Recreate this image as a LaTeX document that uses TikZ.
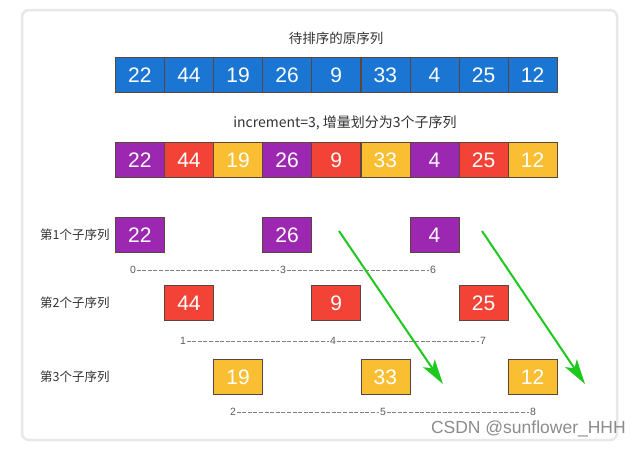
\documentclass[tikz,border=0pt]{standalone}
\usepackage{fontspec}
\setmainfont{Liberation Sans}
\newfontfamily\cjk{Noto Sans CJK SC}
\usetikzlibrary{arrows.meta}
\definecolor{cblue}{RGB}{26,118,210}
\definecolor{cpurple}{RGB}{156,39,176}
\definecolor{cred}{RGB}{242,67,54}
\definecolor{cyellow}{RGB}{250,190,50}
\definecolor{cgreen}{RGB}{30,200,30}
\definecolor{cborder}{RGB}{90,70,60}
\definecolor{ctext}{RGB}{51,51,51}
\begin{document}
\begin{tikzpicture}[x=1pt,y=-1pt,
  cell/.style={draw=cborder, line width=0.7pt, minimum width=49pt, minimum height=35pt,
    inner sep=0pt, anchor=north west, text=white, font=\fontsize{21}{21}\selectfont},
  label/.style={text=ctext, font=\cjk\fontsize{12.5}{13}\selectfont, inner sep=0pt},
  idx/.style={text=ctext!80, font=\fontsize{10.5}{11}\selectfont, inner sep=0.5pt},
  idxline/.style={draw=gray, line width=0.6pt, dash pattern=on 4pt off 1.6pt},
  garrow/.style={draw=cgreen, line width=2pt, -{Stealth[length=25pt,width=14pt,inset=6pt]}}]
\useasboundingbox (0,0) rectangle (640,448);
\fill[white] (0,0) rectangle (640,448);
\draw[draw=black!9, line width=2.5pt, rounded corners=7pt] (22,10) rectangle (617,440);

\node[label, font=\cjk\fontsize{13.5}{14}\selectfont] (t1) at (336,38) {待排序的原序列};
\foreach \v [count=\i from 0] in {22,44,19,26,9,33,4,25,12}
  \node[cell, fill=cblue] (a\i) at ({115+49.1*\i},57) {\v};

\node[label, font=\cjk\fontsize{14}{15}\selectfont] (t2) at (345,123) {increment=3, 增量划分为3个子序列};
\foreach \v/\c [count=\i from 0] in {22/cpurple,44/cred,19/cyellow,26/cpurple,9/cred,33/cyellow,4/cpurple,25/cred,12/cyellow}
  \node[cell, fill=\c] (b\i) at ({115+49.1*\i},142) {\v};

% sub sequences
\foreach \k/\yy/\c/\va/\vb/\vc in {0/217/cpurple/22/26/4, 1/285/cred/44/9/25, 2/359/cyellow/19/33/12}{
  \node[label, anchor=west] (l\k) at (40,{\yy+18}) {第\the\numexpr\k+1\relax 个子序列};
  \node[cell, fill=\c] (s\k a) at ({115+49.1*\k},\yy) {\va};
  \node[cell, fill=\c] (s\k b) at ({115+49.1*(\k+3)},\yy) {\vb};
  \node[cell, fill=\c] (s\k c) at ({115+49.1*(\k+6)},\yy) {\vc};
}

\foreach \k/\yy in {0/270,1/341,2/412}{
  \node[idx] (i\k a) at ({133+50*\k},\yy) {\k};
  \node[idx] (i\k b) at ({133+50*(\k+3)},\yy) {\the\numexpr\k+3\relax};
  \node[idx] (i\k c) at ({133+50*(\k+6)},\yy) {\the\numexpr\k+6\relax};
  \draw[idxline] (i\k a.east) -- (i\k b.west);
  \draw[idxline] (i\k b.east) -- (i\k c.west);
}

\coordinate (g1s) at (339,231);
\coordinate (g1e) at (443,384);
\coordinate (g2s) at (482,231);
\coordinate (g2e) at (585,384);
\draw[garrow] (g1s) -- (g1e);
\draw[garrow] (g2s) -- (g2e);

\node[text=black!45, font=\fontsize{17.5}{18}\selectfont, anchor=east, inner sep=0pt] (wm) at (626,429) {CSDN @sunflower\_HHH};
\end{tikzpicture}
\end{document}
